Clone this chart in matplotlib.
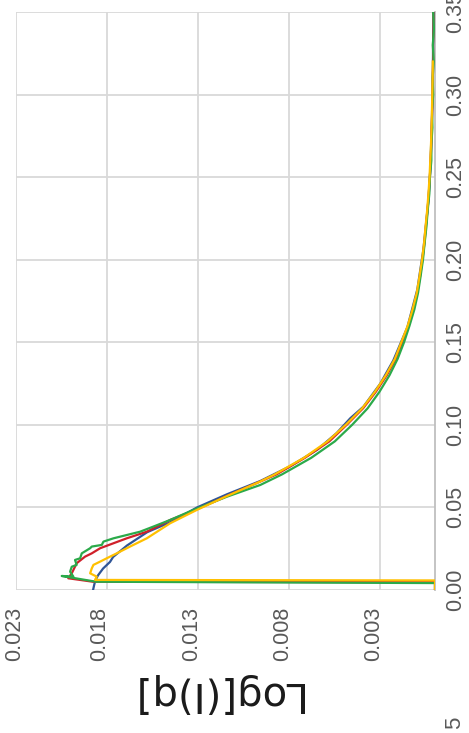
import matplotlib
matplotlib.use('Agg')
import matplotlib.pyplot as plt
import matplotlib.transforms as mtransforms

# model curve (blue)
q_model = [0.0, 0.003, 0.006, 0.009, 0.013, 0.017, 0.020, 0.027, 0.035, 0.041, 0.050,
           0.058, 0.066, 0.075, 0.085, 0.095, 0.104, 0.111, 0.125, 0.139, 0.159,
           0.182, 0.206, 0.236, 0.256, 0.297, 0.350]
I_model = [0.01877, 0.01871, 0.01864, 0.01849, 0.01822, 0.01784, 0.01767, 0.0169, 0.0158,
           0.01454, 0.01306, 0.01141, 0.00959, 0.00794, 0.00646, 0.0054, 0.00465,
           0.00393, 0.0030, 0.00229, 0.00152, 0.00097, 0.00064, 0.00036, 0.00025,
           0.00014, 0.00008]

# measured curves: low-q part
q_red_lo = [0.0, 0.0024, 0.0047, 0.0050, 0.0071, 0.0101, 0.0162, 0.0202, 0.0222, 0.0253,
            0.0283, 0.0313, 0.0353, 0.0424, 0.0489, 0.0570, 0.0657]
I_red_lo = [0.0, 0.0, 0.0, 0.01877, 0.02013, 0.01994, 0.01967, 0.01921, 0.01884, 0.01838,
            0.01765, 0.01692, 0.01582, 0.01454, 0.01307, 0.01140, 0.00959]

q_yel_lo = [0.0, 0.003, 0.0058, 0.0061, 0.0081, 0.0101, 0.0131, 0.0152, 0.0172, 0.0192,
            0.0222, 0.0263, 0.0313, 0.0404, 0.0485, 0.0570, 0.0657]
I_yel_lo = [0.0, 0.0, 0.0, 0.01866, 0.01857, 0.01893, 0.01884, 0.01875, 0.01838, 0.01802,
            0.01747, 0.01674, 0.01582, 0.01454, 0.01307, 0.01140, 0.00959]

q_grn_lo = [0.0, 0.0022, 0.0042, 0.0050, 0.0085, 0.0081, 0.0111, 0.0141, 0.0152, 0.0182,
            0.0192, 0.0222, 0.0253, 0.0263, 0.0273, 0.0293, 0.0313, 0.0333, 0.0353,
            0.0384, 0.0424, 0.0485, 0.0565, 0.0636]
I_grn_lo = [0.0, 0.0, 0.0, 0.01860, 0.02049, 0.01985, 0.02003, 0.01994, 0.01967, 0.01976,
            0.01948, 0.01939, 0.01893, 0.01884, 0.01829, 0.0182, 0.01765, 0.01692,
            0.01619, 0.01546, 0.01454, 0.01326, 0.01142, 0.00959]

# measured curves: high-q part
q_tail = [0.07, 0.08, 0.09, 0.10, 0.11, 0.12, 0.13, 0.14, 0.15, 0.16, 0.17, 0.18, 0.19,
          0.20, 0.21, 0.22, 0.23, 0.24, 0.25, 0.26, 0.27, 0.28, 0.29, 0.30, 0.31, 0.32,
          0.33, 0.34, 0.35]
I_red_tail = [0.0087, 0.00715, 0.0058, 0.00485, 0.00395, 0.00325, 0.00265, 0.00215, 0.0018,
              0.00147, 0.0012, 0.00097, 0.00082, 0.00069, 0.00058, 0.0005, 0.00041, 0.00034,
              0.00028, 0.00024, 0.0002, 0.00018, 0.00015, 0.00013, 0.00012, 0.0001, 0.00011,
              0.00008, 0.00009]
I_yel_tail = [0.0088, 0.0072, 0.0059, 0.0049, 0.0040, 0.0033, 0.0027, 0.0022, 0.00185,
              0.0015, 0.00123, 0.001, 0.00085, 0.00071, 0.0006, 0.00052, 0.00043, 0.00036,
              0.0003, 0.00026, 0.00022, 0.00019, 0.00017, 0.00015, 0.00013, 0.00012]
I_grn_tail = [0.0084, 0.0068, 0.0055, 0.00455, 0.0037, 0.00305, 0.0025, 0.00205, 0.0017,
              0.0014, 0.00113, 0.00093, 0.00079, 0.00066, 0.00057, 0.00047, 0.0004, 0.00031,
              0.00028, 0.0002, 0.0002, 0.00014, 0.00016, 0.0001, 0.00013, 0.00007, 0.00012,
              0.00006, 0.0001]

x_ticks = [0.023, 0.018, 0.013, 0.008, 0.003]
y_ticks = [0.00, 0.05, 0.10, 0.15, 0.20, 0.25, 0.30, 0.35]

tick_font = ['Liberation Sans Narrow', 'Liberation Sans']

fig = plt.figure(figsize=(4.69, 7.33), dpi=100)
ax = fig.add_axes([16/469, 143/733, 419/469, 578/733])

ax.plot(I_model, q_model, color='#2F5597', lw=1.6, zorder=3)
ax.plot(I_red_lo + I_red_tail, q_red_lo + q_tail, color='#D0202A', lw=1.6, zorder=4)
ax.plot(I_grn_lo + I_grn_tail, q_grn_lo + q_tail, color='#2BAA4A', lw=1.6, zorder=5)
ax.plot(I_yel_lo + I_yel_tail, q_yel_lo + q_tail[:len(I_yel_tail)], color='#FFC000', lw=1.6, zorder=6)

ax.set_xlim(0.023, 0.0)
ax.set_ylim(0.0, 0.35)
ax.set_xticks(x_ticks)
ax.set_xticklabels(['%.3f' % v for v in x_ticks])
ax.set_yticks(y_ticks)
ax.set_yticklabels(['%.2f' % v for v in y_ticks], va='center')
ax.yaxis.tick_right()

ax.grid(True, color='#d9d9d9', lw=1.3)
ax.set_axisbelow(True)
for s in ['left', 'top', 'bottom']:
    ax.spines[s].set_visible(False)
ax.spines['right'].set_color('#bfbfbf')
ax.spines['right'].set_linewidth(1.3)

ax.tick_params(axis='x', length=0, pad=12, labelsize=15.5, labelcolor='#595959', labelrotation=90)
ax.tick_params(axis='y', length=0, pad=7, labelsize=15.5, labelcolor='#595959', labelrotation=90)
for lab in ax.get_xticklabels() + ax.get_yticklabels():
    lab.set_family(tick_font)
    lab.set_clip_on(False)

# first bottom label sits on its gridline, the others sit a little to the left
for i, lab in enumerate(ax.get_xticklabels()):
    dx = -1 if i == 0 else -7
    lab.set_transform(lab.get_transform() + mtransforms.ScaledTranslation(dx/100, 0, fig.dpi_scale_trans))

fig.text(215/469, 1 - 693/733, 'Log[(I)q]', rotation=180, ha='center', va='center',
         fontsize=29, color='#1a1a1a')
fig.text(455/469, 1 - 717/733, '5', rotation=90, ha='center', va='top',
         fontsize=16, color='#595959', family=tick_font)

fig.savefig('out.png', dpi=100)
